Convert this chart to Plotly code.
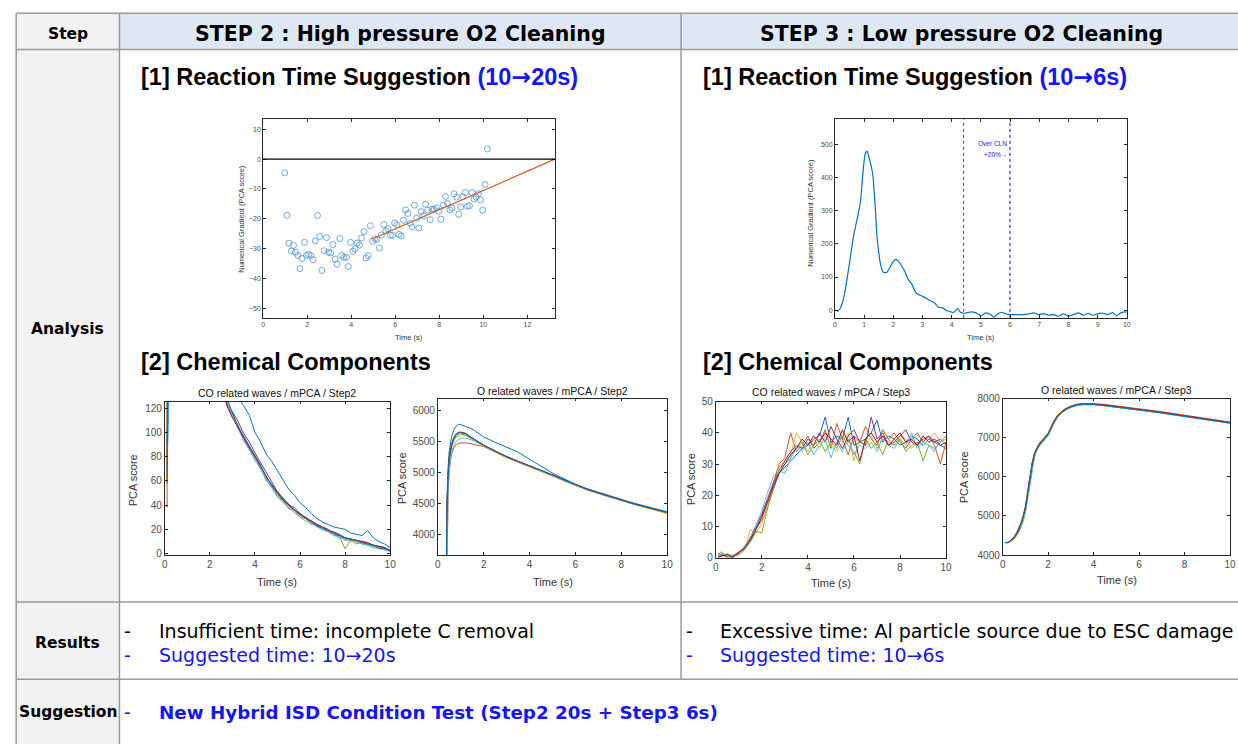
import plotly.graph_objects as go

W, H = 1238, 744

# ---------------- data ----------------
# [1] Step2 : numerical gradient scatter + fit
sc_t = [0.98,1.08,1.17,1.28,1.38,1.47,1.58,1.67,1.77,1.88,
        1.97,2.07,2.17,2.27,2.37,2.47,2.57,2.67,2.77,2.88,
        2.97,3.07,3.17,3.27,3.36,3.48,3.57,3.67,3.78,3.87,
        3.97,4.08,4.17,4.27,4.38,4.47,4.58,4.67,4.77,4.87,
        4.97,5.07,5.17,5.28,5.37,5.48,5.57,5.67,5.78,5.88,
        5.97,6.07,6.17,6.27,6.38,6.47,6.57,6.68,6.77,6.87,
        6.97,7.07,7.17,7.28,7.38,7.47,7.58,7.67,7.77,7.87,
        7.97,8.07,8.18,8.28,8.37,8.48,8.57,8.67,8.78,8.88,
        8.97,9.07,9.18,9.27,9.37,9.48,9.57,9.67,9.78,9.87,
        9.97,10.08,10.18]
sc_y = [-4.6,-18.8,-28.2,-30.8,-28.9,-31.2,-32.3,-36.7,-33.3,-27.9,
        -32.3,-31.9,-32.3,-33.7,-27.4,-18.9,-25.9,-37.3,-30.7,-26.3,
        -31.2,-31.4,-28.6,-33.5,-35.2,-26.6,-32.3,-32.9,-32.9,-36.0,
        -27.9,-30.9,-30.1,-28.1,-28.8,-26.4,-24.3,-33.1,-32.3,-22.3,
        -27.5,-26.7,-26.9,-29.8,-25.4,-21.9,-24.1,-23.3,-25.5,-25.5,
        -21.4,-22.0,-25.2,-25.7,-20.5,-17.0,-18.2,-21.5,-22.7,-15.4,
        -19.8,-23.1,-17.6,-19.0,-15.1,-17.1,-20.3,-16.8,-16.8,-16.3,
        -17.5,-20.1,-15.4,-12.5,-14.9,-17.0,-16.4,-11.6,-12.7,-18.5,
        -16.0,-12.6,-11.2,-15.8,-15.6,-11.2,-13.4,-12.7,-11.6,-13.7,
        -17.1,-8.5,3.4]
fit_t = [4.98, 13.25]
fit_y = [-26.7, 0.0]

# [1] Step3 : numerical gradient curve
gr_t = [0.08,0.19,0.31,0.42,0.53,0.64,0.76,0.87,0.98,1.04,
        1.10,1.15,1.21,1.30,1.38,1.44,1.50,1.57,1.66,1.78,
        1.89,2.00,2.09,2.18,2.29,2.40,2.51,2.62,2.79,3.02,
        3.25,3.42,3.53,3.70,3.81,3.93,4.04,4.12,4.21,4.29,
        4.43,4.66,4.83,5.00,5.17,5.34,5.45,5.57,5.71,5.87,
        6.02,6.19,6.41,6.64,6.81,6.98,7.15,7.32,7.49,7.66,
        7.83,8.00,8.17,8.34,8.51,8.68,8.85,9.02,9.19,9.36,
        9.52,9.64,9.81,10.0]
gr_y = [-5,7,41,96,160,224,274,323,432,471,
        479,466,447,407,313,224,175,135,114,114,
        130,147,153,147,133,116,93,81,51,41,
        30,22,10,7,-1,-3,-7,-3,5,-5,
        -9,-5,-8,-16,-8,-13,-21,-11,-6,-11,
        -13,-13,-13,-11,-8,-13,-10,-15,-13,-18,
        -11,-18,-13,-8,-15,-9,-15,-10,-9,-13,
        -7,-16,-7,-5]
end_point_t = 4.41
over_cln_t = 6.0

# [2] Step2 CO related waves
t_co2 = [0.1,0.13,0.5,1.0,1.5,2.0,2.5,2.75,3.0,3.25,3.5,3.75,4.0,4.25,4.5,4.75,5.0,
         5.25,5.5,5.75,6.0,6.25,6.5,6.75,7.0,7.25,7.5,7.75,8.0,8.25,8.5,8.75,9.0,
         9.25,9.5,9.75,10.0]
co2_blue = [80,310,430,340,250,192,155,140,134,128,122,114,100,92,82,76,68,60,53,48,42,38,33,29,26,24,22,21,20,17,16,15,19,13,10,8,5]
co2_orange = [38,290,410,325,238,184,147,124,113,106,94,88,77,71,60,56,47,44,37,36,30,29,24,24,20,19,15,15,11,12,8,10,7,7,4,5,2]
co2_yellow = [55,300,420,330,242,186,150,127,116,103,95,88,79,71,61,56,50,44,40,34,32,29,26,22,20,19,17,13,13,11,10,8,7,6,6,4,3]
co2_purple = [70,305,425,335,246,190,152,122,117,109,99,92,83,75,66,58,51,46,40,38,33,30,27,24,22,19,18,16,13,12,11,10,9,7,6,5,3]
co2_green = [62,298,418,328,240,185,149,125,114,104,96,87,80,72,63,55,49,43,39,36,32,29,26,23,20,18,16,14,4,11,10,8,8,6,5,4,3]
co2_cyan = [66,295,415,326,239,184,148,126,115,103,93,85,77,70,61,54,47,42,38,34,30,27,25,22,20,18,15,13,12,10,10,8,7,5,4,3,2]
co2_red = [58,302,422,332,244,188,151,122,112,104,95,87,80,72,64,56,50,44,40,36,33,29,27,24,22,20,17,15,13,12,11,10,9,7,6,5,2]
co2_blue2 = [90,308,428,338,248,191,154,128,116,105,97,89,81,73,63,57,50,45,41,36,32,30,26,23,21,19,17,15,13,12,11,9,8,7,5,4,3]

# [2] Step2 O related waves
t_o2 = [0.1,0.3,0.35,0.4,0.45,0.5,0.6,0.7,0.8,0.9,1.0,1.2,1.4,1.6,1.8,2.0,2.5,3.0,3.5,4.0,
        4.5,5.0,5.5,6.0,6.5,7.0,7.5,8.0,8.5,9.0,9.5,10.0]
o2_blue = [0,300,2800,4600,5100,5350,5580,5690,5750,5780,5775,5750,5720,5680,5620,5575,5490,5415,5330,5215,5100,4990,4900,4810,4740,4680,4620,4565,4510,4460,4410,4365]
o2_orange = [0,250,2000,3900,4700,5050,5300,5400,5450,5475,5480,5480,5470,5455,5440,5420,5330,5240,5165,5095,5025,4945,4865,4790,4720,4660,4600,4545,4490,4440,4390,4340]
o2_yellow = [0,280,2400,4250,4880,5180,5400,5510,5570,5600,5615,5600,5560,5510,5465,5425,5335,5245,5170,5100,5030,4950,4870,4790,4720,4660,4600,4545,4485,4430,4385,4335]
o2_purple = [0,290,2600,4400,4950,5230,5440,5550,5610,5640,5650,5630,5580,5530,5480,5440,5345,5255,5180,5110,5040,4960,4880,4800,4730,4670,4610,4555,4500,4450,4400,4355]
o2_green = [0,285,2500,4350,4920,5210,5420,5530,5590,5615,5625,5610,5570,5520,5470,5430,5340,5250,5175,5105,5035,4955,4875,4795,4725,4665,4605,4550,4495,4445,4395,4350]
o2_cyan = [0,260,2200,4000,4750,5100,5330,5440,5500,5530,5550,5560,5540,5510,5470,5435,5345,5255,5180,5110,5040,4960,4880,4805,4735,4675,4615,4560,4505,4455,4405,4360]
o2_red = [0,295,2700,4450,4980,5250,5460,5570,5625,5650,5655,5635,5585,5535,5485,5445,5350,5258,5182,5112,5042,4962,4882,4802,4732,4672,4612,4556,4500,4450,4402,4355]
o2_blue2 = [0,292,2650,4420,4960,5240,5450,5560,5620,5645,5645,5630,5580,5530,5480,5440,5348,5256,5181,5111,5041,4961,4881,4801,4731,4671,4611,4558,4503,4453,4404,4358]

# [2] Step3 CO related waves
t_co3 = [0.1,0.25,0.5,0.75,1.0,1.25,1.5,1.75,2.0,2.25,2.5,2.75,3.0,3.25,3.5,3.75,4.0,4.25,4.5,4.75,
         5.0,5.25,5.5,5.75,6.0,6.25,6.5,6.75,7.0,7.25,7.5,7.75,8.0,8.25,8.5,8.75,9.0,9.25,9.5,9.75,10.0]
co3_blue = [1.5,1.0,0.5,0.3,1.5,3.5,5.5,9,13,18,22,27,29,31,33,35,36,38,39,45,37,39,38,45,36,37,38,40,44,37,39,38,36,37,39,38,36,38,37,36,35]
co3_orange = [0.5,1.2,0.2,0.8,1.8,3.0,6.0,9.5,12,16,24,30,32,40,34,36,39,35,37,41,35,43,38,33,39,37,42,38,36,41,38,40,37,35,38,40,37,39,36,30,37]
co3_yellow = [0.8,0.5,1.5,0.5,1.2,2.5,9,8,11,17,23,29,31,33,40,37,34,38,35,39,36,34,37,40,31,38,36,39,35,38,37,36,39,38,35,37,36,38,40,37,38]
co3_purple = [0.2,0.8,0.6,0.1,2.0,3.2,6.5,10,14,19,24,28,31,34,36,35,38,36,40,37,42,38,35,39,41,37,36,45,38,40,36,37,39,41,37,36,38,39,37,38,36]
co3_green = [1.0,2.0,0.4,0.6,1.0,2.8,5.0,8.5,8,16,22,28,30,32,35,37,33,36,38,34,37,35,39,36,34,30,38,35,37,33,38,36,38,34,36,37,31,36,35,37,39]
co3_cyan = [0.6,1.4,0.9,0.2,1.4,3.8,6.2,10.5,15,21,26,28,27,32,36,34,37,33,36,38,32,37,34,38,33,36,35,37,34,39,36,35,38,36,40,35,37,36,34,38,36]
co3_red = [0.3,0.6,1.1,0.4,1.6,3.0,5.8,9.2,13,18,23,27,30,33,35,38,36,39,37,40,38,36,41,37,39,31,38,40,37,39,36,38,40,37,38,36,39,37,38,36,37]

# [2] Step3 O related waves
t_o3 = [0.1,0.2,0.3,0.4,0.5,0.6,0.7,0.8,0.9,1.0,1.1,1.2,1.3,1.4,1.5,1.6,1.7,1.8,1.9,2.0,
        2.2,2.4,2.6,2.8,3.0,3.25,3.5,3.75,4.0,4.5,5.0,5.5,6.0,6.5,7.0,7.5,8.0,8.5,9.0,9.5,10.0]
o3_blue = [4320,4315,4340,4390,4440,4520,4620,4760,4940,5180,5560,5960,6320,6580,6720,6810,6880,6940,7000,7080,7330,7540,7650,7730,7785,7830,7850,7855,7850,7820,7785,7745,7705,7670,7635,7590,7545,7505,7465,7420,7375]
o3_orange = [4325,4320,4350,4410,4470,4560,4670,4820,5010,5260,5650,6040,6380,6620,6760,6850,6920,6980,7040,7120,7370,7570,7680,7760,7810,7855,7875,7880,7870,7850,7815,7770,7735,7700,7665,7620,7575,7530,7490,7445,7400]
o3_yellow = [4318,4312,4332,4375,4420,4495,4590,4720,4890,5120,5480,5880,6250,6530,6690,6790,6860,6920,6985,7060,7310,7520,7640,7720,7775,7822,7845,7850,7845,7815,7780,7740,7700,7665,7630,7585,7540,7500,7460,7415,7370]
o3_green = [4315,4310,4325,4365,4405,4480,4570,4700,4860,5080,5430,5830,6210,6500,6670,6775,6850,6910,6975,7050,7300,7510,7630,7715,7770,7818,7842,7848,7843,7812,7778,7738,7698,7662,7628,7582,7538,7498,7458,7412,7368]
o3_cyan = [4322,4318,4338,4385,4432,4510,4605,4745,4920,5160,5530,5930,6300,6560,6705,6800,6870,6930,6992,7072,7322,7534,7645,7726,7780,7826,7847,7852,7847,7817,7782,7742,7702,7667,7632,7587,7542,7502,7462,7417,7372]
o3_red = [4320,4318,4345,4400,4455,4540,4645,4790,4975,5220,5600,6000,6350,6600,6740,6830,6900,6960,7020,7100,7350,7555,7665,7745,7798,7842,7862,7868,7860,7835,7800,7758,7720,7685,7650,7605,7560,7518,7478,7432,7388]

# text content
header_cols = ["Step", "STEP 2 : High pressure O2 Cleaning", "STEP 3 : Low pressure O2 Cleaning"]
row_labels = ["Analysis", "Results", "Suggestion"]

# ---------------- styling helpers ----------------
MB, MO, MY, MP, MG, MC, MR = '#0072BD', '#D95319', '#EDB120', '#7E2F8E', '#77AC30', '#4DBEEE', '#A2142F'
KF = "DejaVu Sans"
AF = "Liberation Sans, Arial"
BLUE = "#1414ff"
GRID = "#9a9a9a"
ARROW = "<span style='font-family:DejaVu Sans'>→</span>"


def dx(a, b):
    return [a / W, b / W]


def dy(top, bottom):
    return [1 - bottom / H, 1 - top / H]


def axis(domain, rng, dtick, fs, anchor):
    return dict(domain=domain, range=rng, dtick=dtick, tick0=0, showgrid=False, zeroline=False,
                showline=True, linecolor='#262626', linewidth=0.8, mirror='ticks', ticks='inside',
                ticklen=3, tickwidth=0.7, tickcolor='#262626', anchor=anchor,
                tickfont=dict(family=AF, size=fs, color='#4d4d4d'), exponentformat='none',
                separatethousands=False)


fig = go.Figure()

# plot 1
fig.add_trace(go.Scatter(x=sc_t, y=sc_y, mode='markers', xaxis='x', yaxis='y',
                         marker=dict(symbol='circle-open', size=6, color='#4a93d4', line=dict(width=0.8)),
                         showlegend=False))
fig.add_trace(go.Scatter(x=fit_t, y=fit_y, mode='lines', xaxis='x', yaxis='y',
                         line=dict(color=MO, width=1.2), showlegend=False))
# plot 2
fig.add_trace(go.Scatter(x=gr_t, y=gr_y, mode='lines', xaxis='x2', yaxis='y2',
                         line=dict(color=MB, width=1.2, shape='spline', smoothing=0.6), showlegend=False))

# plot 3
for yv, c in [(co2_blue, MB), (co2_orange, MO), (co2_yellow, MY), (co2_purple, MP), (co2_green, MG),
              (co2_cyan, MC), (co2_red, MR), (co2_blue2, MB)]:
    fig.add_trace(go.Scatter(x=t_co2, y=yv, mode='lines', xaxis='x3', yaxis='y3',
                             line=dict(color=c, width=1), showlegend=False))
# plot 4
for yv, c in [(o2_blue, MB), (o2_orange, MO), (o2_yellow, MY), (o2_purple, MP), (o2_green, MG),
              (o2_cyan, MC), (o2_red, MR), (o2_blue2, MB)]:
    fig.add_trace(go.Scatter(x=t_o2, y=yv, mode='lines', xaxis='x4', yaxis='y4',
                             line=dict(color=c, width=1), showlegend=False))
# plot 5
for yv, c in [(co3_blue, MB), (co3_orange, MO), (co3_yellow, MY), (co3_purple, MP), (co3_green, MG),
              (co3_cyan, MC), (co3_red, MR)]:
    fig.add_trace(go.Scatter(x=t_co3, y=yv, mode='lines', xaxis='x5', yaxis='y5',
                             line=dict(color=c, width=1), showlegend=False))
# plot 6
for yv, c in [(o3_orange, MO), (o3_yellow, MY), (o3_green, MG), (o3_cyan, MC), (o3_red, MR), (o3_blue, MB)]:
    fig.add_trace(go.Scatter(x=t_o3, y=yv, mode='lines', xaxis='x6', yaxis='y6',
                             line=dict(color=c, width=1), showlegend=False))

layout = dict(margin=dict(l=0, r=0, t=0, b=0, pad=0), autosize=True,
              paper_bgcolor='white', plot_bgcolor='white', showlegend=False)
layout['xaxis'] = axis(dx(262, 556), [0, 13.25], 2, 7, 'y')
layout['yaxis'] = axis(dy(115, 317), [-53.2, 13.4], 10, 7, 'x')
layout['xaxis2'] = axis(dx(838, 1132), [0, 10], 1, 7, 'y2')
layout['yaxis2'] = axis(dy(115, 317), [-23, 575], 100, 7, 'x2')
layout['xaxis3'] = axis(dx(163, 390), [0, 10], 2, 10, 'y3')
layout['yaxis3'] = axis(dy(402, 558), [-1.1, 125.4], 20, 10, 'x3')
layout['xaxis4'] = axis(dx(438, 669), [0, 10], 2, 10, 'y4')
layout['yaxis4'] = axis(dy(399, 558), [3665, 6197], 500, 10, 'x4')
layout['xaxis5'] = axis(dx(718, 950), [0, 10], 2, 10, 'y5')
layout['yaxis5'] = axis(dy(402, 561), [0, 50], 10, 10, 'x5')
layout['xaxis6'] = axis(dx(1007, 1236), [0, 10], 2, 10, 'y6')
layout['yaxis6'] = axis(dy(399, 558), [4000, 8000], 1000, 10, 'x6')
fig.update_layout(**layout)

shapes = []
# table fills
shapes.append(dict(type='rect', xref='paper', yref='paper', x0=117.3 / W, x1=1.01, y0=1 - 44.3 / H, y1=1 - 7.3 / H,
                   fillcolor='#dde8f4', line=dict(width=0), layer='below'))
shapes.append(dict(type='rect', xref='paper', yref='paper', x0=13.3 / W, x1=117.3 / W, y0=-0.01, y1=1 - 7.3 / H,
                   fillcolor='#f2f2f2', line=dict(width=0), layer='below'))
# table borders
for yy in [7.3, 44.3, 605.7, 684.3]:
    shapes.append(dict(type='line', xref='paper', yref='paper', x0=13.3 / W, x1=1.01, y0=1 - yy / H, y1=1 - yy / H,
                       line=dict(color=GRID, width=1.5)))
for xx in [13.3, 117.3]:
    shapes.append(dict(type='line', xref='paper', yref='paper', x0=xx / W, x1=xx / W, y0=-0.01, y1=1 - 7.3 / H,
                       line=dict(color=GRID, width=1.5)))
shapes.append(dict(type='line', xref='paper', yref='paper', x0=683 / W, x1=683 / W, y0=1 - 684.3 / H, y1=1 - 7.3 / H,
                   line=dict(color=GRID, width=1.5)))
# plot 1 zero line
shapes.append(dict(type='line', xref='x domain', yref='y', x0=0, x1=1, y0=0, y1=0,
                   line=dict(color='black', width=1.3)))
# plot 2 vertical markers
shapes.append(dict(type='line', xref='x2', yref='y2 domain', x0=end_point_t, x1=end_point_t, y0=0, y1=1,
                   line=dict(color='#ff0000', width=1, dash='dot')))
shapes.append(dict(type='line', xref='x2', yref='y2 domain', x0=over_cln_t, x1=over_cln_t, y0=0, y1=1,
                   line=dict(color='#0000ff', width=1, dash='dot')))

ann = []


def txt(x, y, s, size, family=KF, color='black', xanchor='center', angle=0, bold=False):
    if bold:
        s = '<b>' + s + '</b>'
    ann.append(dict(xref='paper', yref='paper', x=x / W, y=1 - y / H, text=s, showarrow=False,
                    xanchor=xanchor, yanchor='middle', textangle=angle,
                    font=dict(family=family, size=size, color=color)))


# header
txt(65, 28, header_cols[0], 15.5, bold=True)
txt(400, 28, header_cols[1], 20.5, bold=True)
txt(966, 28, header_cols[2], 20.5, bold=True)
# row labels
txt(65, 328, row_labels[0], 15.5, bold=True)
txt(65, 647, row_labels[1], 15.5, bold=True)
txt(66, 718, row_labels[2], 15.5, bold=True)
# section headings
txt(137, 72, "[1] Reaction Time Suggestion <span style='color:%s'>(10%s20s)</span>" % (BLUE, ARROW), 23.5,
    family=AF, xanchor='left', bold=True)
txt(703, 72, "[1] Reaction Time Suggestion <span style='color:%s'>(10%s6s)</span>" % (BLUE, ARROW), 23.5,
    family=AF, xanchor='left', bold=True)
txt(137, 362, "[2] Chemical Components", 23.5, family=AF, xanchor='left', bold=True)
txt(703, 362, "[2] Chemical Components", 23.5, family=AF, xanchor='left', bold=True)
# results
txt(120, 635, "-", 19, xanchor='left')
txt(155, 635, "Insufficient time: incomplete C removal", 19, xanchor='left')
txt(120, 660, "-", 19, xanchor='left', color=BLUE)
txt(155, 660, "Suggested time: 10→20s", 19, xanchor='left', color=BLUE)
txt(686, 635, "-", 19, xanchor='left')
txt(720, 635, "Excessive time: Al particle source due to ESC damage", 19, xanchor='left')
txt(686, 660, "-", 19, xanchor='left', color=BLUE)
txt(720, 660, "Suggested time: 10→6s", 19, xanchor='left', color=BLUE)
# suggestion
txt(120, 718, "-", 19, xanchor='left', color=BLUE)
txt(155, 718, "New Hybrid ISD Condition Test (Step2 20s + Step3 6s)", 18.3, xanchor='left', color=BLUE, bold=True)

# plot labels
txt(409, 337, "Time (s)", 7.5, family=AF, color='#333')
txt(240, 216, "Numerical Gradient (PCA score)", 7.5, family=AF, color='#333', angle=-90)
txt(985, 337, "Time (s)", 7.5, family=AF, color='#333')
txt(814, 210, "Numerical Gradient (PCA score)", 7.5, family=AF, color='#333', angle=-90)

for (tx, ty, title, xt, yx, yy) in [
        (276, 393, "CO related waves / mPCA / Step2", 585, 131, 482),
        (554, 391, "O related waves / mPCA / Step2", 585, 402, 480),
        (834, 392, "CO related waves / mPCA / Step3", 586, 693, 481),
        (1122, 390, "O related waves / mPCA / Step3", 583, 968, 479)]:
    txt(tx, ty, title, 10.5, family=AF, color='#111')
    txt(tx, xt, "Time (s)", 11, family=AF, color='#333')
    txt(yx, yy, "PCA score", 11, family=AF, color='#333', angle=-90)

# plot 2 annotation
ann.append(dict(xref='x2', yref='y2', x=over_cln_t - 0.03, y=503, text="Over CLN", showarrow=False,
                xanchor='right', yanchor='middle', font=dict(family=AF, size=6.5, color='#2020ff')))
ann.append(dict(xref='x2', yref='y2', x=over_cln_t - 0.03, y=469, text="+20%→", showarrow=False,
                xanchor='right', yanchor='middle', font=dict(family=AF, size=6.5, color='#2020ff')))

fig.update_layout(shapes=shapes, annotations=ann)
fig.write_html("out.html", config={'displayModeBar': False, 'responsive': True},
               default_width='100vw', default_height='100vh',
               post_script="document.body.style.margin='0';document.body.style.padding='0';"
                           "document.documentElement.style.overflow='hidden';"
                           "document.body.style.overflow='hidden';")
